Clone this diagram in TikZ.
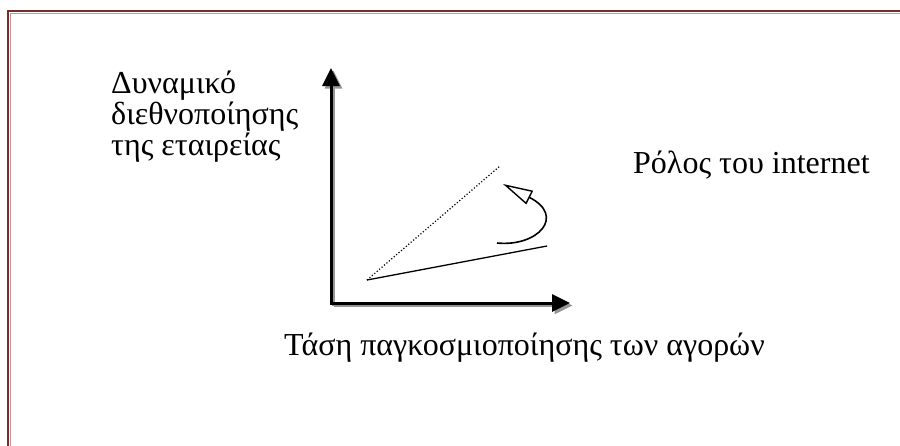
\documentclass[tikz,border=0pt]{standalone}
\usepackage{fontspec}
\setmainfont{Liberation Serif}
\usetikzlibrary{arrows.meta}
\definecolor{framered}{RGB}{120,45,45}
\definecolor{framelight}{RGB}{200,150,150}
\definecolor{shadowgray}{RGB}{150,150,150}
\tikzset{
  lbl/.style={inner sep=0pt, font=\fontsize{32}{31}\selectfont, align=left},
  axis/.style={line width=3pt, -{Triangle[length=18pt,width=17pt]}},
  axisshadow/.style={axis, draw=shadowgray, color=shadowgray},
}
\begin{document}
\begin{tikzpicture}[x=1pt,y=-1pt]
\useasboundingbox (0,0) rectangle (900,445);
% frame
\draw[framered, line width=1.6pt] (8,460) -- (8,11) -- (910,11);
\draw[framelight, line width=0.5pt] (9.8,460) -- (9.8,12.8) -- (910,12.8);
% axes
\coordinate (O) at (331,303);
\coordinate (Ytop) at (331,68);
\coordinate (Xend) at (570,303);
\coordinate (Os) at (333.5,305.5);
\coordinate (Ytops) at (333.5,70.5);
\coordinate (Xends) at (572.5,305.5);
\draw[axisshadow] (Os) -- (Ytops);
\draw[axisshadow] (Os) -- (Xends);
\draw[axis] ([yshift=1.5pt]O) -- (Ytop);
\draw[axis] ([xshift=-1.5pt]O) -- (Xend);
% lines
\coordinate (S) at (367,280);
\coordinate (A) at (547,246);
\coordinate (D) at (500,166);
\draw[line width=1.3pt] (S) -- (A);
\draw[line width=1.2pt, dotted] (S) -- (D);
% curved arrow
\coordinate (C0) at (497,243);
\coordinate (C1) at (503,184);
\draw[line width=1.6pt, -{Triangle[open, length=30pt, width=15pt, line width=1.4pt]}]
  (C0) .. controls (538,247) and (566,216) .. (C1);
% labels
\node[lbl, anchor=base west] (ylab) at (111,155) {Δυναμικό\\διεθνοποίησης\\της εταιρείας};
\node[lbl, anchor=base west] (rlab) at (633,173) {Ρόλος του internet};
\node[lbl, anchor=base west] (xlab) at (284,355) {Τάση παγκοσμιοποίησης των αγορών};
\end{tikzpicture}
\end{document}
